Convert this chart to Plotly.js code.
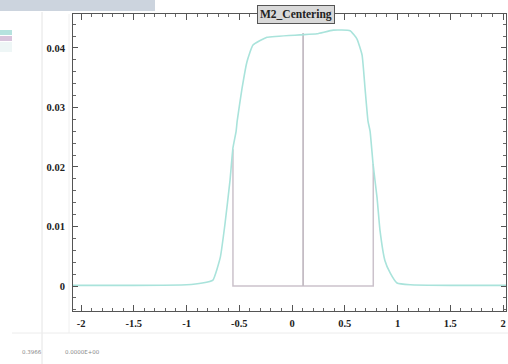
<!DOCTYPE html>
<html>
<head>
<meta charset="utf-8">
<script src="https://cdn.plot.ly/plotly-3.0.1.min.js"></script>
<style>
html,body{margin:0;padding:0;background:#fff;}
#chart{width:508px;height:364px;}
</style>
</head>
<body>
<div id="chart"></div>
<script>
// Distribution curve
const curveX = [-2.08, -1.5, -1.0, -0.85, -0.75, -0.68, -0.635, -0.588, -0.56, -0.53, -0.52, -0.474, -0.427, -0.37, -0.237, 0.076, 0.237, 0.39, 0.55, 0.616, 0.664, 0.692, 0.72, 0.74, 0.768, 0.806, 0.834, 0.88, 0.93, 0.995, 1.12, 1.5, 2.03];
const curveY = [0.0001, 0.0001, 0.0002, 0.0005, 0.001, 0.0048, 0.0105, 0.0177, 0.0232, 0.026, 0.0277, 0.0332, 0.0377, 0.0405, 0.0418, 0.0422, 0.0424, 0.0430, 0.0429, 0.0415, 0.0388, 0.0332, 0.0277, 0.026, 0.0205, 0.0148, 0.0093, 0.0043, 0.0022, 0.0005, 0.0002, 0.0001, 0.0001];
// Marker lines: left edge, centre, right edge
const markerX = [-0.56, 0.105, 0.77];
const markerY = [0.023, 0.0425, 0.0205];
// Tick labels
const xTickVals = [-2, -1.5, -1, -0.5, 0, 0.5, 1, 1.5, 2];
const xTickText = ["-2", "-1.5", "-1", "-0.5", "0", "0.5", "1", "1.5", "2"];
const yTickVals = [0, 0.01, 0.02, 0.03, 0.04];
const yTickText = ["0", "0.01", "0.02", "0.03", "0.04"];
const titleText = "M2_Centering";
const statsText = ["0.3966", "0.0000E+00"];

const boxTrace = {
  x: [markerX[0], markerX[0], markerX[2], markerX[2]],
  y: [markerY[0], 0, 0, markerY[2]],
  mode: 'lines', line: {color: '#cbc2cb', width: 1.5}, hoverinfo: 'skip', showlegend: false
};
const midTrace = {
  x: [markerX[1], markerX[1]],
  y: [0, markerY[1]],
  mode: 'lines', line: {color: '#c4bcc4', width: 1.8}, hoverinfo: 'skip', showlegend: false
};
const curveTrace = {
  x: curveX, y: curveY, mode: 'lines',
  line: {color: '#a9e3db', width: 1.6, shape: 'spline', smoothing: 0.4},
  hoverinfo: 'skip', showlegend: false
};

const tickFont = {family: 'Liberation Serif, DejaVu Serif, serif', size: 10.5, color: '#222', weight: 'bold'};
const axisCommon = {
  showgrid: false, zeroline: false, showline: true, linecolor: '#555', linewidth: 1,
  mirror: 'allticks', ticks: 'inside', tickcolor: '#555', ticklen: 6, tickwidth: 1,
  tickfont: tickFont, fixedrange: true
};

function px2x(px){ return (px - 73) / 433; }
function py2y(py){ return (311 - py) / 297; }

const layout = {
  width: 508, height: 364,
  margin: {l: 73, r: 2, t: 14, b: 53, pad: 0},
  paper_bgcolor: '#ffffff', plot_bgcolor: '#ffffff',
  showlegend: false,
  xaxis: Object.assign({}, axisCommon, {
    range: [-2.076, 2.028], tickmode: 'array', tickvals: xTickVals, ticktext: xTickText,
    ticklabelstandoff: 2,
    minor: {ticks: 'inside', dtick: 0.1, ticklen: 3, tickcolor: '#666', showgrid: false}
  }),
  yaxis: Object.assign({}, axisCommon, {
    range: [-0.0042, 0.04571], tickmode: 'array', tickvals: yTickVals, ticktext: yTickText,
    ticklen: 5, ticklabelstandoff: 5,
    minor: {ticks: 'inside', dtick: 0.002, ticklen: 3, tickcolor: '#666', showgrid: false}
  }),
  shapes: [
    {type: 'rect', xref: 'paper', yref: 'paper', x0: px2x(0), x1: px2x(155), y0: py2y(11), y1: py2y(0), fillcolor: '#ccd4de', line: {width: 0}, layer: 'below'},
    {type: 'line', xref: 'paper', yref: 'paper', x0: px2x(42), x1: px2x(42), y0: py2y(12), y1: py2y(364), line: {color: '#e4e4e4', width: 1}},
    {type: 'line', xref: 'paper', yref: 'paper', x0: px2x(69), x1: px2x(69), y0: py2y(14), y1: py2y(333), line: {color: '#f0f0f0', width: 1}},
    {type: 'line', xref: 'paper', yref: 'paper', x0: px2x(12), x1: px2x(508), y0: py2y(333), y1: py2y(333), line: {color: '#ececec', width: 1}},
    {type: 'rect', xref: 'paper', yref: 'paper', x0: px2x(0), x1: px2x(12), y0: py2y(35), y1: py2y(30), fillcolor: '#b5e2de', line: {width: 0}},
    {type: 'rect', xref: 'paper', yref: 'paper', x0: px2x(0), x1: px2x(12), y0: py2y(41), y1: py2y(36), fillcolor: '#d8c4dc', line: {width: 0}},
    {type: 'rect', xref: 'paper', yref: 'paper', x0: px2x(0), x1: px2x(12), y0: py2y(52), y1: py2y(42), fillcolor: '#eef6f6', line: {width: 0}}
  ],
  annotations: [
    {xref: 'paper', yref: 'paper', x: px2x(296), y: py2y(14), xanchor: 'center', yanchor: 'middle',
     text: '<b>' + titleText + '</b>', showarrow: false,
     font: {family: 'Liberation Serif, DejaVu Serif, serif', size: 11.5, color: '#222'},
     bgcolor: '#d9d9d9', bordercolor: '#555', borderwidth: 1, borderpad: 2},
    {xref: 'paper', yref: 'paper', x: px2x(20), y: py2y(352), xanchor: 'left', yanchor: 'middle',
     text: statsText[0], showarrow: false, font: {family: 'DejaVu Sans, sans-serif', size: 5.5, color: '#888'}},
    {xref: 'paper', yref: 'paper', x: px2x(63), y: py2y(352), xanchor: 'left', yanchor: 'middle',
     text: statsText[1], showarrow: false, font: {family: 'DejaVu Sans, sans-serif', size: 5.5, color: '#888'}}
  ]
};

Plotly.newPlot('chart', [boxTrace, midTrace, curveTrace], layout, {staticPlot: true, displayModeBar: false});
</script>
</body>
</html>
